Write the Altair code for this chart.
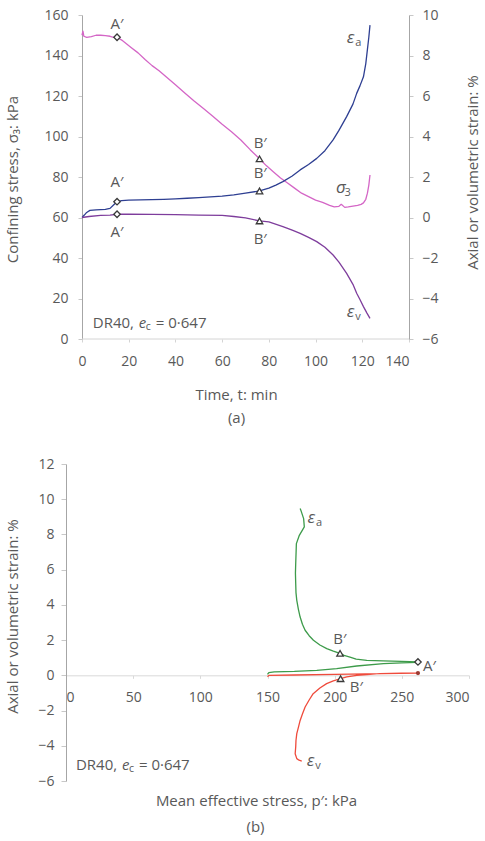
import altair as alt
import pandas as pd

FONT = "Open Sans"
TXT = "#595959"
PINK = "#d466c6"
BLUE = "#2e3f92"
PURPLE = "#7e3d9c"
GREEN = "#3d9b4a"
RED = "#ef4b3c"
MK = "#3a3a3a"

# ---------------- panel (a): time histories ----------------
sig_t = [0, 0.4, 0.8, 2, 4, 6, 8, 10, 12, 13.5, 15, 17, 19, 21, 24, 27, 30, 33, 36, 40,
         44, 48, 52, 56, 60, 64, 68, 72, 76, 79, 82, 85, 88, 91, 94, 97, 100, 103, 106, 108,
         110, 111, 112.5, 114, 116, 118, 119.5, 120.5, 121.5, 122.2, 122.8, 123.3]
sig_v = [150, 152, 149.5, 149, 149.3, 150, 150, 149.8, 149.5, 149, 149, 147.6, 145.8, 144, 141.3, 138, 135, 132.5, 129.5, 125.5,
         121.5, 117.5, 113.8, 110, 106, 102.3, 98.3, 93.5, 89, 85.5, 82.5, 79.5, 77, 74.5, 72, 70.3, 68.6, 67.5, 66, 65.2,
         65.5, 66.5, 65, 65.2, 65.6, 66, 66.5, 67.2, 69, 72, 76, 81]

ea_t = [0, 1, 2, 3.4, 6, 10, 12, 13.5, 15, 17, 20, 25, 30, 35, 40, 45, 50, 55, 60, 65,
        70, 76, 80, 83, 86, 90, 93.4, 97, 100.5, 104, 107.5, 110, 113.3, 116, 117.6, 119, 120.5, 121.5, 122.2, 122.8,
        123.3]
ea_v = [0, 0.12, 0.25, 0.35, 0.38, 0.4, 0.45, 0.62, 0.78, 0.83, 0.86, 0.87, 0.88, 0.9, 0.92, 0.95, 0.98, 1.02, 1.06, 1.12,
        1.2, 1.31, 1.45, 1.6, 1.77, 2.05, 2.35, 2.62, 2.92, 3.3, 3.83, 4.3, 4.98, 5.6, 6.13, 6.5, 6.95, 7.6, 8.3, 8.9,
        9.5]

ev_t = [0, 3, 8, 12, 15, 20, 30, 40, 50, 60, 65, 70, 76, 80, 86, 90, 93.4, 97, 100.5, 104,
        107.5, 110, 113.3, 116, 117.6, 119, 120.5, 122, 123.3]
ev_v = [0, 0.05, 0.1, 0.12, 0.16, 0.16, 0.15, 0.14, 0.12, 0.1, 0.05, -0.02, -0.17, -0.22, -0.45, -0.62, -0.78, -0.98, -1.19, -1.47,
        -1.85, -2.2, -2.76, -3.3, -3.74, -4.05, -4.4, -4.72, -4.98]

# key points A′ (diamond) and B′ (triangle)
a_key_kind = ["A", "B"]
a_key_t = [15, 76]
a_key_sig = [149, 89]
a_key_ea = [0.78, 1.31]
a_key_ev = [0.16, -0.17]

# point labels
a_lblL_txt = ["A′", "B′"]
a_lblL_t = [15, 76.3]
a_lblL_v = [155.6, 96.8]
a_lblR_txt = ["A′", "A′", "B′", "B′"]
a_lblR_t = [15, 15, 76.3, 76.3]
a_lblR_v = [1.74, -0.7, 2.18, -1.06]

# curve symbols (left edge of the Greek letter)
a_symL = ["σ"]; a_subL = ["3"]; a_symL_t = [108.7]; a_symL_v = [74.4]
a_symR = ["ε", "ε"]; a_subR = ["a", "v"]; a_symR_t = [113.4, 113.3]; a_symR_v = [8.86, -4.65]
a_note_t = [4.6]; a_note_v = [7.9]

# ---------------- panel (b): strain vs mean effective stress ----------------
b_ea_p = [150, 151, 155, 170, 186.7, 201.5, 216.4, 236.3, 250, 261,
          262, 250, 236, 223.9, 216, 211.4, 207, 204, 199, 194.1,
          189, 184.2, 181, 178, 176, 174.3, 173, 171.8, 171.2, 171,
          170.8, 171, 171.5, 173.7, 177.4, 176.9, 174.8, 174.3]
b_ea_s = [0.05, 0.15, 0.2, 0.22, 0.28, 0.38, 0.53, 0.66, 0.71, 0.74,
          0.76, 0.79, 0.82, 0.85, 0.92, 1.04, 1.13, 1.25, 1.38, 1.52,
          1.72, 1.99, 2.25, 2.56, 2.9, 3.31, 3.75, 4.26, 4.7, 5.21,
          5.8, 6.35, 7.48, 7.95, 8.43, 8.9, 9.38, 9.47]
b_ev_p = [150, 151, 170, 200, 235, 262, 250, 233.8, 216.4, 209,
          204.4, 199, 194, 189, 184, 181, 178, 176, 174.3, 173,
          171.8, 171.2, 171, 170.6, 171.8, 173.5, 175.5]
b_ev_s = [-0.08, 0.0, 0.02, 0.05, 0.1, 0.13, 0.12, 0.1, 0.0, -0.09,
          -0.19, -0.32, -0.47, -0.72, -1.04, -1.4, -1.8, -2.2, -2.56, -2.95,
          -3.31, -3.7, -4.07, -4.45, -4.73, -4.82, -4.87]

b_key_kind = ["A", "B", "B"]
b_key_p = [262, 204, 204.4]
b_key_s = [0.76, 1.25, -0.19]
b_dot_p = [262]; b_dot_s = [0.13]

b_lbl_txt = ["A′", "B′", "B′"]
b_lbl_p = [270.6, 203.8, 216.2]
b_lbl_s = [0.51, 2.06, -0.66]
b_sym = ["ε", "ε"]; b_sub = ["a", "v"]; b_sym_p = [179.7, 179.2]; b_sym_s = [8.95, -4.89]
b_note_p = [7.4]; b_note_s = [-5.11]

A_X = [0, 140]; A_YL = [0, 160]; A_YR = [-6, 10]
B_X = [0, 300]; B_Y = [-6, 12]
WA_DATA, HA = 327, 324      # data rectangle of panel (a)
PAD_A = 16                  # panel (a) starts further right than panel (b)
WA = WA_DATA + PAD_A
WB, HB = 403, 317
PAGE_W, PAGE_H = 485, 841


def line_df(xs, ys):
    return pd.DataFrame({"x": xs, "y": ys, "o": list(range(len(xs)))})


def pts_df(xs, ys, kind=None, txt=None, sub=None):
    d = {"x": xs, "y": ys}
    if kind is not None:
        d["k"] = kind
    if txt is not None:
        d["t"] = txt
    if sub is not None:
        d["s"] = sub
    return pd.DataFrame(d)


common_axis = dict(labelFont=FONT, labelFontSize=14, labelColor=TXT, titleFont=FONT,
                   titleFontSize=15, titleColor=TXT, titleFontWeight="normal", grid=False,
                   titleAlign="center", titleBaseline="middle")

shape_scale = alt.Scale(domain=["A", "B"], range=["diamond", "triangle-up"])


def line_layer(df, color, x, y):
    return alt.Chart(df).mark_line(color=color, strokeWidth=1.3, strokeJoin="round").encode(
        x=x, y=y, order="o:Q")


def key_layer(df, x, y, stroke=MK):
    return alt.Chart(df).mark_point(filled=True, fill="white", stroke=stroke, strokeWidth=1.3,
                                    size=42, opacity=1).encode(
        x=x, y=y, shape=alt.Shape("k:N", scale=shape_scale, legend=None))


def label_layer(df, x, y, align="center"):
    return alt.Chart(df).mark_text(font=FONT, fontSize=15, color=TXT, align=align,
                                   baseline="middle").encode(x=x, y=y, text="t:N")


def symbol_layers(df, x, y):
    main = alt.Chart(df).mark_text(font=FONT, fontSize=17, fontStyle="italic", color=TXT,
                                   align="left", baseline="middle").encode(x=x, y=y, text="t:N")
    sub = alt.Chart(df).mark_text(font=FONT, fontSize=11, color=TXT, align="left",
                                  baseline="middle", dx=8.5, dy=5).encode(x=x, y=y, text="s:N")
    return [main, sub]


def note_layers(df, x, y):
    base = dict(font=FONT, color=TXT, baseline="middle", align="left")
    return [
        alt.Chart(df).mark_text(fontSize=15, **base).encode(x=x, y=y, text=alt.value("DR40,")),
        alt.Chart(df).mark_text(fontSize=15, fontStyle="italic", dx=46, **base).encode(x=x, y=y, text=alt.value("e")),
        alt.Chart(df).mark_text(fontSize=10.5, dx=53, dy=4, **base).encode(x=x, y=y, text=alt.value("c")),
        alt.Chart(df).mark_text(fontSize=15, dx=63, **base).encode(x=x, y=y, text=alt.value("= 0·647")),
    ]


# ---------- panel (a) ----------
a_dom = [A_X[0] - (A_X[1] - A_X[0]) * PAD_A / WA_DATA, A_X[1]]
xA = alt.X("x:Q", scale=alt.Scale(domain=a_dom, nice=False, zero=False),
           axis=alt.Axis(values=list(range(0, 141, 20)), title="Time, t: min", titleX=170, titleY=55,
                         domain=False, tickColor="#d4d4d4", tickSize=3, labelPadding=12,
                         **common_axis))
yL = alt.Y("y:Q", scale=alt.Scale(domain=A_YL, nice=False, zero=False),
           axis=alt.Axis(orient="left", offset=-PAD_A, values=list(range(0, 161, 20)),
                         title="Confining stress, σ₃: kPa",
                         titleX=-70, titleY=164, titleAngle=270, domainColor="#a6a6a6",
                         tickColor="#c8c8c8", tickSize=4, labelPadding=10, **common_axis))
yR = alt.Y("y:Q", scale=alt.Scale(domain=A_YR, nice=False, zero=False),
           axis=alt.Axis(orient="right", values=list(range(-6, 11, 2)), title="Axial or volumetric strain: %",
                         titleX=63, titleY=157, titleAngle=270, domainColor="#a6a6a6",
                         tickColor="#c8c8c8", tickSize=4, labelPadding=9, **common_axis))

baseline_a = alt.Chart(pd.DataFrame({"x": [A_X[0]], "x2": [A_X[1]], "y": [A_YL[0]]})).mark_rule(
    color="#d4d4d4", strokeWidth=1).encode(x=xA, x2="x2:Q", y=yL)

left_group = alt.layer(
    baseline_a,
    line_layer(line_df(sig_t, sig_v), PINK, xA, yL),
    key_layer(pts_df(a_key_t, a_key_sig, kind=a_key_kind), xA, yL),
    label_layer(pts_df(a_lblL_t, a_lblL_v, txt=a_lblL_txt), xA, yL),
    *symbol_layers(pts_df(a_symL_t, a_symL_v, txt=a_symL, sub=a_subL), xA, yL),
    *note_layers(pts_df(a_note_t, a_note_v), xA, yL),
)
right_group = alt.layer(
    line_layer(line_df(ea_t, ea_v), BLUE, xA, yR),
    line_layer(line_df(ev_t, ev_v), PURPLE, xA, yR),
    key_layer(pts_df(a_key_t + a_key_t, a_key_ea + a_key_ev, kind=a_key_kind + a_key_kind), xA, yR),
    label_layer(pts_df(a_lblR_t, a_lblR_v, txt=a_lblR_txt), xA, yR),
    *symbol_layers(pts_df(a_symR_t, a_symR_v, txt=a_symR, sub=a_subR), xA, yR),
)

title_style = dict(orient="bottom", frame="group", anchor="middle", font=FONT, fontSize=15,
                   fontWeight="normal", color=TXT)

panel_a = alt.layer(left_group, right_group).resolve_scale(y="independent").properties(
    width=WA, height=HA, title=alt.TitleParams("(a)", dx=-1, offset=9, **title_style))

# ---------- panel (b) ----------
zero_offset = -HB * (0 - B_Y[0]) / (B_Y[1] - B_Y[0])
xB = alt.X("x:Q", scale=alt.Scale(domain=B_X, nice=False, zero=False),
           axis=alt.Axis(values=list(range(0, 301, 50)), offset=zero_offset,
                         title="Mean effective stress, p′: kPa", titleX=190, titleY=125,
                         domainColor="#d9d9d9", tickColor="#d9d9d9", tickSize=3, labelPadding=12,
                         **common_axis))
yB = alt.Y("y:Q", scale=alt.Scale(domain=B_Y, nice=False, zero=False),
           axis=alt.Axis(values=list(range(-6, 13, 2)), title="Axial or volumetric strain: %",
                         titleX=-54, titleY=152, titleAngle=270, domainColor="#a6a6a6",
                         tickColor="#c8c8c8", tickSize=5, labelPadding=7, **common_axis))

panel_b = alt.layer(
    line_layer(line_df(b_ea_p, b_ea_s), GREEN, xB, yB),
    line_layer(line_df(b_ev_p, b_ev_s), RED, xB, yB),
    key_layer(pts_df(b_key_p, b_key_s, kind=b_key_kind), xB, yB),
    alt.Chart(pts_df(b_dot_p, b_dot_s)).mark_circle(color="#9b3b33", size=18, opacity=1).encode(x=xB, y=yB),
    label_layer(pts_df(b_lbl_p, b_lbl_s, txt=b_lbl_txt), xB, yB),
    *symbol_layers(pts_df(b_sym_p, b_sym_s, txt=b_sym, sub=b_sub), xB, yB),
    *note_layers(pts_df(b_note_p, b_note_s), xB, yB),
).properties(width=WB, height=HB, title=alt.TitleParams("(b)", dx=-12, offset=12, **title_style))

# plot origin of both panels (autosize "none": origin sits at the padding corner)
PAD_L, PAD_T = 66, 15
chart = alt.vconcat(panel_a, panel_b, spacing=31).properties(
    autosize=alt.AutoSizeParams(type="none"),
    padding={"left": PAD_L, "top": PAD_T, "right": PAGE_W - PAD_L, "bottom": PAGE_H - PAD_T},
    background="white",
).configure_view(stroke=None)

chart.save("out.html", embed_options={"renderer": "svg", "actions": False})
